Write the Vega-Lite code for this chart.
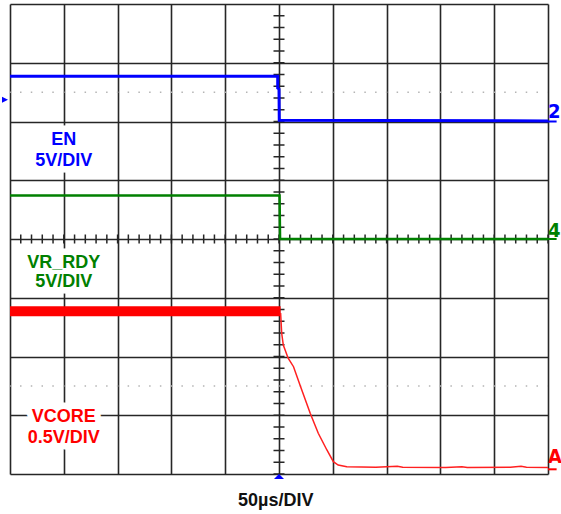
{
  "$schema": "https://vega.github.io/schema/vega-lite/v6.json",
  "width": 538,
  "height": 470,
  "autosize": {"type": "none"},
  "padding": {"left": 10, "top": 4, "right": 13, "bottom": 40},
  "background": "white",
  "config": {
    "view": {"stroke": null},
    "axis": {"grid": true, "gridColor": "#262626", "gridWidth": 1.6, "gridOpacity": 1,
             "labels": false, "ticks": false, "domain": false, "titleOpacity": 0, "titleFontSize": 0},
    "axisX": {"tickCount": 10},
    "axisY": {"tickCount": 8}
  },
  "datasets": {
    "graticule": [
      {"kind": "dots", "v": 6.5},
      {"kind": "dots", "v": 1.5},
      {"kind": "ticksH", "v": 4},
      {"kind": "ticksV", "t": 5}
    ],
    "en": [
      {"t": 0, "v": 6.77},
      {"t": 4.976, "v": 6.77},
      {"t": 4.976, "v": 6.57},
      {"t": 5.0, "v": 6.55},
      {"t": 5.005, "v": 6.02},
      {"t": 10, "v": 6.01}
    ],
    "rdy": [
      {"t": 0, "v": 4.74},
      {"t": 5.01, "v": 4.74},
      {"t": 5.02, "v": 4.0},
      {"t": 10, "v": 4.0}
    ],
    "vcoreHigh": [
      {"t": 0, "v": 2.77},
      {"t": 5.03, "v": 2.77}
    ],
    "vcore": [
      {"t": 5.03, "v": 2.74},
      {"t": 5.05, "v": 2.395},
      {"t": 5.08, "v": 2.196},
      {"t": 5.17, "v": 1.97},
      {"t": 5.27, "v": 1.826},
      {"t": 5.39, "v": 1.515},
      {"t": 5.58, "v": 1.033},
      {"t": 5.73, "v": 0.693},
      {"t": 5.89, "v": 0.409},
      {"t": 6.01, "v": 0.209},
      {"t": 6.1, "v": 0.153},
      {"t": 6.26, "v": 0.124},
      {"t": 6.8, "v": 0.115},
      {"t": 7.2, "v": 0.13},
      {"t": 7.3, "v": 0.115},
      {"t": 8.1, "v": 0.11},
      {"t": 8.4, "v": 0.125},
      {"t": 8.5, "v": 0.11},
      {"t": 9.3, "v": 0.115},
      {"t": 9.5, "v": 0.13},
      {"t": 9.6, "v": 0.115},
      {"t": 10, "v": 0.11}
    ],
    "markers": [
      {"ch": "EN", "text": "2", "t": 10.0, "v": 6.0, "vt": 6.06},
      {"ch": "VR_RDY", "text": "4", "t": 10.0, "v": 4.0, "vt": 4.04},
      {"ch": "VCORE", "text": "A", "t": 10.0, "v": 0.08, "vt": 0.18}
    ],
    "symbols": [
      {"ch": "EN", "kind": "left", "t": -0.093, "v": 6.37},
      {"ch": "EN", "kind": "bottom", "t": 5.0, "v": -0.043}
    ],
    "labels": [
      {"ch": "EN", "text": "EN", "t": 1.0, "v": 5.6},
      {"ch": "EN", "text": "5V/DIV", "t": 1.0, "v": 5.25},
      {"ch": "VR_RDY", "text": "VR_RDY", "t": 1.0, "v": 3.5},
      {"ch": "VR_RDY", "text": "5V/DIV", "t": 1.0, "v": 3.19},
      {"ch": "VCORE", "text": "VCORE", "t": 1.0, "v": 0.89},
      {"ch": "VCORE", "text": "0.5V/DIV", "t": 1.0, "v": 0.52},
      {"ch": "TIME", "text": "50µs/DIV", "t": 4.94, "v": -0.545}
    ]
  },
  "layer": [
    {
      "data": {"name": "graticule"},
      "transform": [{"filter": "datum.kind === 'dots'"}],
      "mark": {"type": "rule", "color": "#b4b4b4", "strokeWidth": 1.5, "strokeDash": [1.5, 9.26], "strokeDashOffset": 0.75},
      "encoding": {"y": {"field": "v", "type": "quantitative", "title": null,
                         "scale": {"domain": [0, 8], "nice": false, "zero": false}}}
    },
    {
      "data": {"name": "graticule"},
      "transform": [{"filter": "datum.kind === 'ticksV'"}],
      "mark": {"type": "rule", "color": "#262626", "strokeWidth": 11, "strokeDash": [1.5, 10.25], "strokeDashOffset": 0.75},
      "encoding": {"x": {"field": "t", "type": "quantitative", "title": null,
                         "scale": {"domain": [0, 10], "nice": false, "zero": false}}}
    },
    {
      "data": {"name": "graticule"},
      "transform": [{"filter": "datum.kind === 'ticksH'"}],
      "mark": {"type": "rule", "color": "#262626", "strokeWidth": 9, "strokeDash": [1.5, 9.26], "strokeDashOffset": 0.75},
      "encoding": {"y": {"field": "v", "type": "quantitative", "title": null}}
    },
    {
      "data": {"name": "en"},
      "mark": {"type": "line", "color": "#0000ff", "strokeWidth": 3},
      "encoding": {
        "x": {"field": "t", "type": "quantitative", "title": null},
        "y": {"field": "v", "type": "quantitative", "title": null}
      }
    },
    {
      "data": {"name": "rdy"},
      "mark": {"type": "line", "color": "#008000", "strokeWidth": 2.5},
      "encoding": {
        "x": {"field": "t", "type": "quantitative", "title": null},
        "y": {"field": "v", "type": "quantitative", "title": null}
      }
    },
    {
      "data": {"name": "vcoreHigh"},
      "mark": {"type": "line", "color": "#ff0000", "strokeWidth": 10},
      "encoding": {
        "x": {"field": "t", "type": "quantitative", "title": null},
        "y": {"field": "v", "type": "quantitative", "title": null}
      }
    },
    {
      "data": {"name": "vcore"},
      "mark": {"type": "line", "color": "#ff2020", "strokeWidth": 1.5},
      "encoding": {
        "x": {"field": "t", "type": "quantitative", "title": null},
        "y": {"field": "v", "type": "quantitative", "title": null}
      }
    },
    {
      "data": {"name": "markers"},
      "mark": {"type": "rule", "strokeWidth": 2},
      "encoding": {
        "x": {"field": "t", "type": "quantitative", "title": null},
        "x2": {"datum": 10.16},
        "y": {"field": "v", "type": "quantitative", "title": null},
        "color": {"field": "ch", "type": "nominal", "legend": null,
                  "scale": {"domain": ["EN", "VR_RDY", "VCORE", "TIME"], "range": ["#0000ff", "#008000", "#ff0000", "#111111"]}}
      }
    },
    {
      "data": {"name": "markers"},
      "mark": {"type": "text", "font": "DejaVu Sans Condensed, Liberation Sans, sans-serif", "fontWeight": "bold", "fontSize": 20, "align": "left", "baseline": "alphabetic", "dx": 0},
      "encoding": {
        "x": {"field": "t", "type": "quantitative", "title": null},
        "y": {"field": "vt", "type": "quantitative", "title": null},
        "text": {"field": "text"},
        "color": {"field": "ch", "type": "nominal", "legend": null}
      }
    },
    {
      "data": {"name": "symbols"},
      "transform": [{"filter": "datum.kind === 'left'"}],
      "mark": {"type": "point", "shape": "M-1,-1L1,0L-1,1Z", "size": 36, "filled": true, "opacity": 1, "strokeWidth": 0},
      "encoding": {
        "x": {"field": "t", "type": "quantitative", "title": null},
        "y": {"field": "v", "type": "quantitative", "title": null},
        "color": {"field": "ch", "type": "nominal", "legend": null}
      }
    },
    {
      "data": {"name": "symbols"},
      "transform": [{"filter": "datum.kind === 'bottom'"}],
      "mark": {"type": "point", "shape": "M-1,0.5L1,0.5L0,-0.5Z", "size": 100, "filled": true, "opacity": 1, "strokeWidth": 0},
      "encoding": {
        "x": {"field": "t", "type": "quantitative", "title": null},
        "y": {"field": "v", "type": "quantitative", "title": null},
        "color": {"field": "ch", "type": "nominal", "legend": null}
      }
    },
    {
      "data": {"name": "labels"},
      "mark": {"type": "text", "font": "Liberation Sans", "fontWeight": "bold", "fontSize": 18, "align": "center", "baseline": "alphabetic",
               "stroke": "white", "strokeWidth": 13, "strokeJoin": "round", "fill": "white"},
      "encoding": {
        "x": {"field": "t", "type": "quantitative", "title": null},
        "y": {"field": "v", "type": "quantitative", "title": null},
        "text": {"field": "text"}
      }
    },
    {
      "data": {"name": "labels"},
      "mark": {"type": "text", "font": "Liberation Sans", "fontWeight": "bold", "fontSize": 18, "align": "center", "baseline": "alphabetic"},
      "encoding": {
        "x": {"field": "t", "type": "quantitative", "title": null},
        "y": {"field": "v", "type": "quantitative", "title": null},
        "text": {"field": "text"},
        "color": {"field": "ch", "type": "nominal", "legend": null}
      }
    }
  ]
}
